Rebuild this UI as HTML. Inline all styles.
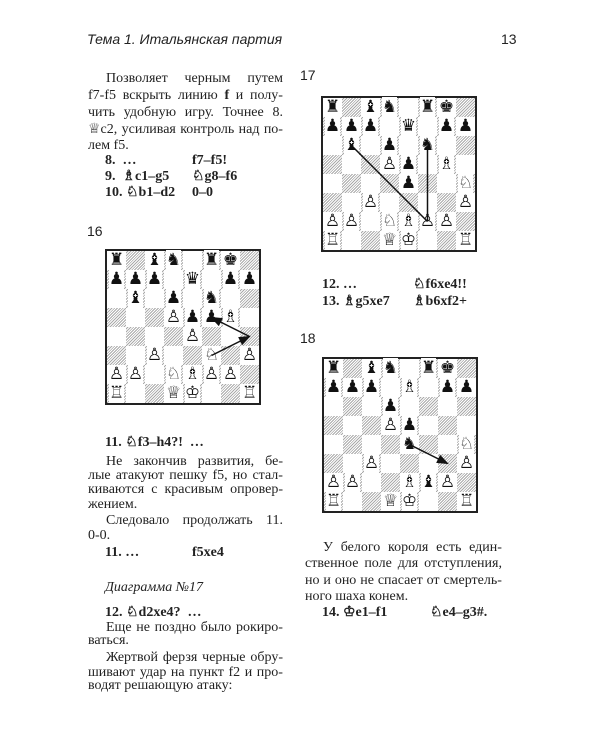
<!DOCTYPE html>
<html><head><meta charset="utf-8">
<style>
body{margin:0;background:#fff;}
#p{position:relative;width:600px;height:750px;overflow:hidden;font-family:"Liberation Serif",serif;color:#222;}
.l{position:absolute;font-size:14px;line-height:17px;white-space:nowrap;}
.j{display:flex;justify-content:space-between;box-sizing:border-box;}
.i{padding-left:18px;}
.b{font-weight:bold;}
.s{font-family:"Liberation Sans",sans-serif;}
.board{position:absolute;width:152px;height:152px;border:1px solid #222;padding:1px;}
.inner{position:relative;width:152px;height:152px;border:2px solid #222;box-sizing:content-box;margin:-2px;}
.sq{position:absolute;width:19px;height:19px;font-family:"DejaVu Sans",sans-serif;font-size:17px;line-height:19px;text-align:center;color:#111;}
.d{background:repeating-linear-gradient(135deg,#fff 0 1px,#aaa 1px 2px);}
svg{position:absolute;left:0;top:0;}
</style></head><body><div id="p">
<div class="l s" style="left:87px;top:31px;font-style:italic;font-size:14px">Тема 1. Итальянская партия</div>
<div class="l s" style="left:501px;top:31px;font-size:14px">13</div>

<div class="l j i" style="left:88px;top:70px;width:195px">Позволяет черным путем</div>
<div class="l j" style="left:88px;top:87px;width:195px">f7-f5 вскрыть линию <b>f</b> и полу-</div>
<div class="l j" style="left:88px;top:104px;width:195px">чить удобную игру. Точнее 8.</div>
<div class="l j" style="left:88px;top:121px;width:195px">♕c2, усиливая контроль над по-</div>
<div class="l" style="left:88px;top:137px">лем f5.</div>
<div class="l b" style="left:105px;top:152px">8. &nbsp;…</div><div class="l b" style="left:192px;top:152px">f7–f5!</div>
<div class="l b" style="left:105px;top:168px">9. &nbsp;♗c1–g5</div><div class="l b" style="left:192px;top:168px">♘g8–f6</div>
<div class="l b" style="left:105px;top:184px">10. ♘b1–d2</div><div class="l b" style="left:192px;top:184px">0–0</div>
<div class="l s" style="left:87px;top:223px;font-size:14px">16</div>

<div class="l b" style="left:105px;top:434px">11. ♘f3–h4?! &nbsp;…</div>
<div class="l j i" style="left:88px;top:453px;width:195px">Не закончив развития, бе-</div>
<div class="l j" style="left:88px;top:467px;width:195px">лые атакуют пешку f5, но стал-</div>
<div class="l j" style="left:88px;top:481px;width:195px">киваются с красивым опровер-</div>
<div class="l" style="left:88px;top:496px">жением.</div>
<div class="l j i" style="left:88px;top:512px;width:195px">Следовало продолжать 11.</div>
<div class="l" style="left:88px;top:527px">0-0.</div>
<div class="l b" style="left:105px;top:544px">11. …</div><div class="l b" style="left:192px;top:544px">f5xe4</div>
<div class="l" style="left:105px;top:579px;font-style:italic">Диаграмма №17</div>
<div class="l b" style="left:105px;top:604px">12. ♘d2xe4? &nbsp;…</div>
<div class="l j i" style="left:88px;top:619px;width:195px">Еще не поздно было рокиро-</div>
<div class="l" style="left:88px;top:632px">ваться.</div>
<div class="l j i" style="left:88px;top:649px;width:195px">Жертвой ферзя черные обру-</div>
<div class="l j" style="left:88px;top:664px;width:195px">шивают удар на пункт f2 и про-</div>
<div class="l" style="left:88px;top:677px">водят решающую атаку:</div>

<div class="l s" style="left:300px;top:67px;font-size:14px">17</div>
<div class="l b" style="left:322px;top:276px">12. …</div><div class="l b" style="left:413px;top:276px">♘f6xe4!!</div>
<div class="l b" style="left:322px;top:293px">13. ♗g5xe7</div><div class="l b" style="left:413px;top:293px">♗b6xf2+</div>
<div class="l s" style="left:300px;top:330px;font-size:14px">18</div>

<div class="l j i" style="left:305px;top:539px;width:197px">У белого короля есть един-</div>
<div class="l j" style="left:305px;top:555px;width:197px">ственное поле для отступления,</div>
<div class="l j" style="left:305px;top:572px;width:197px">но и оно не спасает от смертель-</div>
<div class="l" style="left:305px;top:588px">ного шаха конем.</div>
<div class="l b" style="left:322px;top:604px">14. ♔e1–f1</div><div class="l b" style="left:430px;top:604px">♘e4–g3#.</div>

<div class="board" id="b16" style="left:105px;top:249px"></div>
<div class="board" id="b17" style="left:321px;top:96px"></div>
<div class="board" id="b18" style="left:322px;top:357px"></div>
</div>
<script>
document.querySelectorAll('.j').forEach(function(e){
 e.innerHTML=e.innerHTML.trim().split(' ').map(function(w){return '<span>'+w+'</span>';}).join('');
});
var M={r:'♜',n:'♞',b:'♝',q:'♛',k:'♚',p:'♟',R:'♖',N:'♘',B:'♗',Q:'♕',K:'♔',P:'♙'};
function c(s){var f='abcdefgh'.indexOf(s[0]),r=8-(+s[1]);return [f*19+9.5,r*19+9.5];}
function mk(id,pos,lines){
 var b=document.getElementById(id),h='<div class="inner">';
 for(var r=0;r<8;r++)for(var f=0;f<8;f++){var ch=pos[r][f];
  h+='<div class="sq'+((r+f)%2?' d':'')+'" style="left:'+f*19+'px;top:'+r*19+'px">'+(ch!='.'?'<span style="background:'+((r+f)%2?'#fff':'transparent')+'">'+M[ch]+'</span>':'')+'</div>';}
 h+='<svg width="152" height="152"><defs><marker id="a'+id+'" markerWidth="8" markerHeight="6" refX="7" refY="3" orient="auto"><path d="M0,0L8,3L0,6z" fill="#111"/></marker></defs>';
 lines.forEach(function(l){var a=c(l[0]),e=c(l[1]);h+='<line x1="'+a[0]+'" y1="'+a[1]+'" x2="'+e[0]+'" y2="'+e[1]+'" stroke="#111" stroke-width="1.5"'+(l[2]?' marker-end="url(#a'+id+')"':'')+'/>';});
 b.innerHTML=h+'</svg></div>';
}
mk('b16',['r.bn.rk.','ppp.q.pp','.b.p.n..','...PppB.','....P...','..P..N.P','PP.NBPP.','R..QK..R'],[['f3','h4',1],['h4','f5',1]]);
mk('b17',['r.bn.rk.','ppp.q.pp','.b.p.n..','...Pp.B.','....p..N','..P....P','PP.NBPP.','R..QK..R'],[['b6','f2',0],['f6','f2',0]]);
mk('b18',['r.bn.rk.','ppp.B.pp','...p....','...Pp...','....n..N','..P....P','PP..BbP.','R..QK..R'],[['e4','g3',1]]);
</script>
</body></html>
